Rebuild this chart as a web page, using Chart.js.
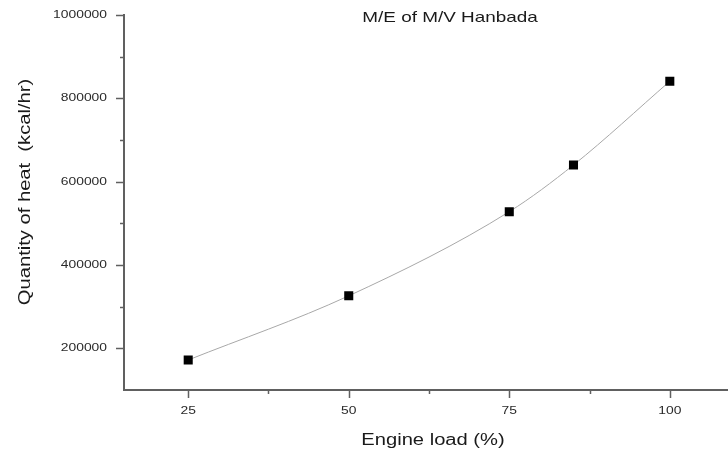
<!DOCTYPE html>
<html>
<head>
<meta charset="utf-8">
<title>M/E of M/V Hanbada</title>
<script src="https://cdn.jsdelivr.net/npm/chart.js@4/dist/chart.umd.min.js"></script>
<style>
  html, body { margin: 0; padding: 0; background: #fff; overflow: hidden; }
  #wrap { width: 734px; height: 457px; position: relative; }
</style>
</head>
<body>
<div id="wrap"><canvas id="heatChart"></canvas></div>
<script>
// Engine load (%) vs heat quantity (kcal/hr)
const engineLoad = [25, 50, 75, 85, 100];
const heatQuantity = [172000, 326000, 528000, 640000, 841000];

// Axis ticks
const xMajorTicks = [25, 50, 75, 100];
const xMinorTicks = [37.5, 62.5, 87.5];
const yMajorTicks = [200000, 400000, 600000, 800000, 1000000];
const yMinorTicks = [300000, 500000, 700000, 900000];

const chartTitle = "M/E of M/V Hanbada";
const xTitle = "Engine load (%)";
const yTitle = "Quantity of heat  (kcal/hr)";

// text is drawn slightly wide
const SX = 1.26;
const FONT = "'Liberation Sans', Arial, sans-serif";
const AXIS_COLOR = "#606060";

function wideText(ctx, text, x, y, rot) {
  ctx.save();
  ctx.translate(x, y);
  if (rot) ctx.rotate(rot);
  ctx.scale(SX, 1);
  ctx.fillText(text, 0, 0);
  ctx.restore();
}

// ticks, tick labels and titles
const axisDecor = {
  id: "axisDecor",
  afterDraw(chart) {
    const ctx = chart.ctx;
    const xs = chart.scales.x;
    const ys = chart.scales.y;
    const area = chart.chartArea;

    ctx.save();
    ctx.strokeStyle = AXIS_COLOR;
    ctx.lineWidth = 1.5;
    ctx.beginPath();
    xMajorTicks.forEach(v => {
      const px = Math.round(xs.getPixelForValue(v)) + 0.5;
      ctx.moveTo(px, area.bottom); ctx.lineTo(px, area.bottom + 8);
    });
    xMinorTicks.forEach(v => {
      const px = Math.round(xs.getPixelForValue(v)) + 0.5;
      ctx.moveTo(px, area.bottom); ctx.lineTo(px, area.bottom + 4);
    });
    yMajorTicks.forEach(v => {
      const py = Math.round(ys.getPixelForValue(v)) + 0.5;
      ctx.moveTo(area.left, py); ctx.lineTo(area.left - 8, py);
    });
    yMinorTicks.forEach(v => {
      const py = Math.round(ys.getPixelForValue(v)) + 0.5;
      ctx.moveTo(area.left, py); ctx.lineTo(area.left - 4, py);
    });
    ctx.stroke();

    // tick labels
    ctx.fillStyle = "#2a2a2a";
    ctx.font = "11px " + FONT;
    ctx.textAlign = "center";
    ctx.textBaseline = "middle";
    xMajorTicks.forEach(v => {
      wideText(ctx, String(v), xs.getPixelForValue(v), area.bottom + 21);
    });
    ctx.textAlign = "right";
    yMajorTicks.forEach(v => {
      wideText(ctx, String(v), area.left - 17, ys.getPixelForValue(v));
    });

    // titles
    ctx.fillStyle = "#1a1a1a";
    ctx.textAlign = "center";
    ctx.font = "15px " + FONT;
    wideText(ctx, chartTitle, 450, area.top + 3);
    ctx.font = "16px " + FONT;
    wideText(ctx, xTitle, 433, area.bottom + 51);
    wideText(ctx, yTitle, 26, 192, -Math.PI / 2);
    ctx.restore();
  }
};

const ctx = document.getElementById("heatChart");
const chart = new Chart(ctx, {
  type: "line",
  data: {
    datasets: [{
      data: engineLoad.map((x, i) => ({ x, y: heatQuantity[i] })),
      borderColor: "#a8a8a8",
      borderWidth: 1,
      cubicInterpolationMode: "monotone",
      pointStyle: "rect",
      pointRadius: 6.4,
      pointBackgroundColor: "#000",
      pointBorderColor: "#000",
      pointBorderWidth: 0
    }]
  },
  options: {
    responsive: true,
    maintainAspectRatio: false,
    animation: false,
    events: [],
    layout: { padding: { top: 15, right: 0, left: 0, bottom: 0 } },
    plugins: { legend: { display: false }, tooltip: { enabled: false }, title: { display: false } },
    scales: {
      x: {
        type: "linear",
        min: 15,
        max: 109,
        grid: { display: false },
        border: { display: true, color: AXIS_COLOR, width: 2 },
        ticks: { display: false },
        afterFit: s => { s.height = 67; }
      },
      y: {
        type: "linear",
        min: 100000,
        max: 1000000,
        grid: { display: false },
        border: { display: true, color: AXIS_COLOR, width: 2 },
        ticks: { display: false },
        afterFit: s => { s.width = 124; }
      }
    }
  },
  plugins: [axisDecor]
});
</script>
</body>
</html>
